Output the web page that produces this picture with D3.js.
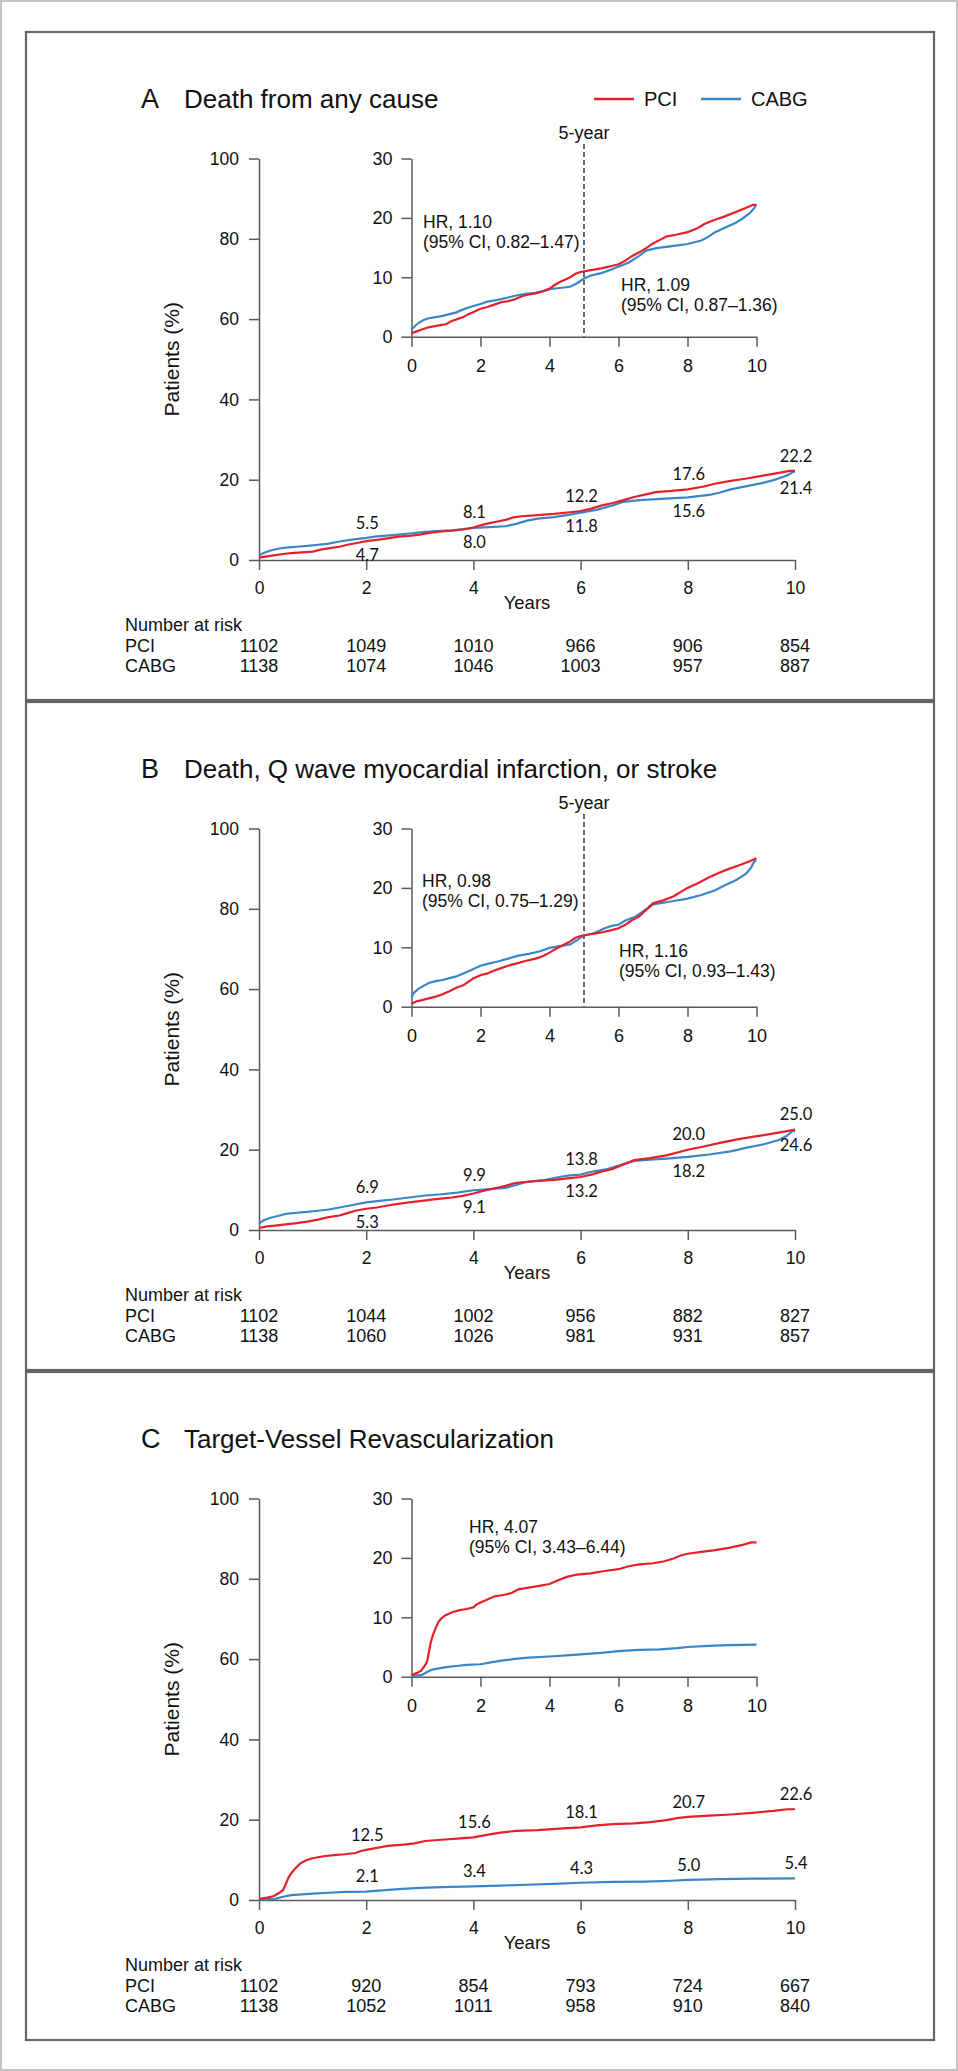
<!DOCTYPE html>
<html>
<head>
<meta charset="utf-8">
<script src="https://cdn.jsdelivr.net/npm/d3@7"></script>
<style>
  body { margin: 0; background: #fff; }
  svg text { font-family: "Liberation Sans", Arial, sans-serif; fill: #111; }
  .axis path, .axis line { stroke: #5a5a5a; stroke-width: 1.5; }
  .axis text { font-size: 17.5px; fill: #111; }
  .inset .axis text { font-size: 18px; }
  .value-label { font-family: Lato, "Open Sans", sans-serif !important; font-size: 16.5px; }
</style>
</head>
<body>
<svg id="chart" width="958" height="2071"></svg>
<script>
// ---- Data ----
let panelLetters = ["A", "B", "C"];
let panelTitles = ["Death from any cause",
                   "Death, Q wave myocardial infarction, or stroke",
                   "Target-Vessel Revascularization"];
let seriesNames = ["PCI", "CABG"];
let xTicks = [0, 2, 4, 6, 8, 10];
let yTicksMain = [0, 20, 40, 60, 80, 100];
let yTicksInset = [0, 10, 20, 30];
let labelYears = [2, 4, 6, 8, 10];

// cumulative event curves: [years, %]
let pciA = [[0,0.6],[0.15,0.9],[0.3,1.2],[0.45,1.5],[0.6,1.7],[0.8,1.9],[1.0,2.1],[1.15,2.6],[1.35,3.0],[1.5,3.3],
            [1.65,3.8],[1.85,4.3],[2.0,4.7],[2.2,5.0],[2.4,5.4],[2.6,5.8],[2.8,6.0],[3.0,6.3],[3.2,6.8],[3.4,7.1],
            [3.6,7.3],[3.8,7.6],[4.0,8.1],[4.15,8.7],[4.3,9.2],[4.45,9.6],[4.6,10.0],[4.75,10.6],[4.9,10.9],[5.2,11.2],
            [5.5,11.5],[5.8,11.9],[6.0,12.2],[6.2,12.8],[6.4,13.6],[6.6,14.2],[6.8,14.9],[7.0,15.7],[7.2,16.3],[7.4,16.9],
            [7.7,17.2],[8.0,17.6],[8.3,18.3],[8.5,19.0],[8.8,19.7],[9.1,20.3],[9.4,21.0],[9.7,21.7],[9.9,22.2],[10,22.2]];
let cabgA = [[0,1.2],[0.1,1.8],[0.2,2.3],[0.35,2.8],[0.5,3.1],[0.7,3.3],[0.9,3.5],[1.1,3.8],[1.3,4.1],[1.5,4.6],
             [1.7,5.0],[2.0,5.5],[2.2,5.9],[2.5,6.2],[2.8,6.6],[3.0,6.9],[3.3,7.2],[3.6,7.4],[3.9,7.8],[4.0,8.0],
             [4.3,8.2],[4.6,8.4],[4.8,9.0],[5.0,9.8],[5.2,10.3],[5.5,10.7],[5.8,11.3],[6.0,11.8],[6.3,12.5],[6.6,13.6],
             [6.8,14.5],[7.1,14.9],[7.5,15.2],[8.0,15.6],[8.4,16.2],[8.6,16.8],[8.8,17.6],[9.1,18.4],[9.4,19.2],[9.6,19.9],
             [9.8,20.8],[9.9,21.4],[9.97,22.0],[10,22.0]];
let pciB = [[0,0.5],[0.15,0.9],[0.3,1.1],[0.5,1.4],[0.7,1.7],[0.9,2.1],[1.1,2.6],[1.3,3.2],[1.5,3.6],[1.65,4.2],
            [1.8,4.8],[2.0,5.3],[2.2,5.6],[2.4,6.1],[2.6,6.5],[2.8,6.9],[3.0,7.2],[3.3,7.7],[3.6,8.1],[3.8,8.5],
            [4.0,9.1],[4.2,9.8],[4.4,10.4],[4.6,11.0],[4.75,11.6],[4.9,11.9],[5.2,12.2],[5.5,12.5],[5.8,12.9],[6.0,13.2],
            [6.2,13.8],[6.4,14.6],[6.6,15.2],[6.8,16.3],[7.0,17.4],[7.3,17.9],[7.6,18.6],[8.0,20.0],[8.3,20.8],[8.6,21.7],
            [8.9,22.5],[9.2,23.2],[9.5,23.8],[9.8,24.5],[10,25.0]];
let cabgB = [[0,1.6],[0.08,2.4],[0.2,3.0],[0.35,3.5],[0.5,4.0],[0.7,4.3],[0.9,4.5],[1.1,4.8],[1.3,5.1],[1.5,5.6],
             [1.7,6.1],[2.0,6.9],[2.2,7.2],[2.5,7.6],[2.8,8.1],[3.1,8.6],[3.4,8.9],[3.7,9.3],[4.0,9.9],[4.3,10.2],
             [4.6,10.5],[4.8,11.2],[5.0,12.0],[5.3,12.4],[5.6,13.2],[5.8,13.6],[6.0,13.8],[6.2,14.5],[6.5,15.2],[6.8,16.4],
             [7.0,17.2],[7.3,17.5],[7.6,17.8],[8.0,18.2],[8.4,18.8],[8.8,19.6],[9.1,20.5],[9.4,21.3],[9.7,22.4],[9.85,23.5],
             [9.95,24.6],[10,24.6]];
let pciC = [[0,0.3],[0.15,0.6],[0.28,1.0],[0.38,1.8],[0.45,2.5],[0.5,4.0],[0.55,5.6],[0.62,7.0],[0.7,8.2],[0.78,9.2],
            [0.88,9.9],[1.0,10.4],[1.2,10.9],[1.4,11.2],[1.6,11.4],[1.8,11.7],[1.9,12.2],[2.0,12.5],[2.2,13.0],[2.4,13.5],
            [2.7,13.8],[2.9,14.1],[3.1,14.7],[3.4,15.0],[3.7,15.3],[4.0,15.6],[4.2,16.1],[4.5,16.8],[4.8,17.2],[5.2,17.4],
            [5.6,17.8],[6.0,18.1],[6.3,18.6],[6.6,18.9],[7.0,19.1],[7.3,19.4],[7.6,19.9],[7.8,20.4],[8.0,20.7],[8.4,21.0],
            [8.8,21.3],[9.2,21.7],[9.6,22.2],[9.85,22.6],[10,22.6]];
let cabgC = [[0,0.1],[0.3,0.3],[0.45,0.8],[0.6,1.2],[0.8,1.4],[1.0,1.6],[1.3,1.8],[1.6,2.0],[2.0,2.1],[2.3,2.4],
             [2.6,2.7],[3.0,3.0],[3.4,3.2],[4.0,3.4],[4.5,3.6],[5.0,3.8],[5.5,4.0],[6.0,4.3],[6.6,4.5],[7.2,4.6],
             [7.7,4.8],[8.0,5.0],[8.6,5.2],[9.2,5.3],[10,5.4]];

// percentages printed at 2, 4, 6, 8, 10 years
let pciLabelsA = [4.7, 8.1, 12.2, 17.6, 22.2];
let cabgLabelsA = [5.5, 8.0, 11.8, 15.6, 21.4];
let pciLabelsB = [5.3, 9.1, 13.2, 20.0, 25.0];
let cabgLabelsB = [6.9, 9.9, 13.8, 18.2, 24.6];
let pciLabelsC = [12.5, 15.6, 18.1, 20.7, 22.6];
let cabgLabelsC = [2.1, 3.4, 4.3, 5.0, 5.4];

// number at risk at 0, 2, ... 10 years
let riskPciA = [1102, 1049, 1010, 966, 906, 854];
let riskCabgA = [1138, 1074, 1046, 1003, 957, 887];
let riskPciB = [1102, 1044, 1002, 956, 882, 827];
let riskCabgB = [1138, 1060, 1026, 981, 931, 857];
let riskPciC = [1102, 920, 854, 793, 724, 667];
let riskCabgC = [1138, 1052, 1011, 958, 910, 840];

let hrA = [["HR, 1.10", "(95% CI, 0.82\u20131.47)"], ["HR, 1.09", "(95% CI, 0.87\u20131.36)"]];
let hrB = [["HR, 0.98", "(95% CI, 0.75\u20131.29)"], ["HR, 1.16", "(95% CI, 0.93\u20131.43)"]];
let hrC = [["HR, 4.07", "(95% CI, 3.43\u20136.44)"]];

// ---- Layout ----
let colors = {PCI: "#e4202a", CABG: "#3a86c8"};
let panelStep = 670;
let hrPositions = [
    [[423, 222], [621, 285]],
    [[422, 211], [619, 281]],
    [[469, 187]]
];

let panels = [
    {pci: pciA, cabg: cabgA, pciLab: pciLabelsA, cabgLab: cabgLabelsA, riskPci: riskPciA, riskCabg: riskCabgA, hr: hrA, fiveYear: true, legend: true},
    {pci: pciB, cabg: cabgB, pciLab: pciLabelsB, cabgLab: cabgLabelsB, riskPci: riskPciB, riskCabg: riskCabgB, hr: hrB, fiveYear: true, legend: false},
    {pci: pciC, cabg: cabgC, pciLab: pciLabelsC, cabgLab: cabgLabelsC, riskPci: riskPciC, riskCabg: riskCabgC, hr: hrC, fiveYear: false, legend: false}
];

let svg = d3.select("#chart");

// outer frame
svg.append("rect")
    .attr("x", 1).attr("y", 1)
    .attr("width", 956).attr("height", 2069)
    .attr("fill", "none")
    .attr("stroke", "#c4c4c4")
    .attr("stroke-width", 2);

// scales shared by all panels (panels are shifted with a transform)
let xMain = d3.scaleLinear().domain([0, 10]).range([259, 795]);
let yMain = d3.scaleLinear().domain([0, 100]).range([560, 158.5]);
let xInset = d3.scaleLinear().domain([0, 10]).range([411.5, 756.5]);
let yInset = d3.scaleLinear().domain([0, 30]).range([336.7, 158.5]);

function drawPanel(p, i) {
    let g = svg.append("g").attr("transform", "translate(0," + (i * panelStep) + ")");

    // panel box
    g.append("rect")
        .attr("x", 26).attr("y", 32)
        .attr("width", 908).attr("height", 668)
        .attr("fill", "none")
        .attr("stroke", "#666")
        .attr("stroke-width", 2.2);

    // title
    g.append("text").attr("x", 141).attr("y", 99).attr("dy", "0.35em")
        .style("font-size", "27px").text(panelLetters[i]);
    g.append("text").attr("x", 184).attr("y", 99).attr("dy", "0.35em")
        .style("font-size", "26px").text(panelTitles[i]);

    // legend
    if (p.legend) {
        let lg = g.append("g").selectAll("g").data(seriesNames).enter().append("g")
            .attr("transform", (d, k) => "translate(" + (594 + k * 107) + ",99)");
        lg.append("line").attr("x1", 0).attr("x2", 40)
            .attr("stroke", d => colors[d]).attr("stroke-width", 2.5);
        lg.append("text").attr("x", 50).attr("dy", "0.35em")
            .style("font-size", "20px").text(d => d);
    }

    let line = (xs, ys) => d3.line()
        .x(d => xs(d[0]))
        .y(d => ys(d[1]));

    // ---- main chart ----
    let main = g.append("g");
    main.append("g").attr("class", "axis")
        .attr("transform", "translate(0," + yMain(0) + ")")
        .call(d3.axisBottom(xMain).tickValues(xTicks).tickSize(10).tickSizeOuter(0).tickPadding(12));
    main.append("g").attr("class", "axis")
        .attr("transform", "translate(" + xMain(0) + ",0)")
        .call(d3.axisLeft(yMain).tickValues(yTicksMain).tickSize(10).tickSizeOuter(0).tickPadding(10));

    main.append("text")
        .attr("transform", "translate(172," + ((yMain(0) + yMain(100)) / 2) + ") rotate(-90)")
        .attr("text-anchor", "middle").attr("dy", "0.35em")
        .style("font-size", "21px").text("Patients (%)");
    main.append("text")
        .attr("x", xMain(5)).attr("y", 603).attr("dy", "0.35em")
        .attr("text-anchor", "middle").style("font-size", "18.5px").text("Years");

    main.append("path").datum(p.cabg)
        .attr("d", line(xMain, yMain))
        .attr("fill", "none").attr("stroke", colors.CABG).attr("stroke-width", 2.2);
    main.append("path").datum(p.pci)
        .attr("d", line(xMain, yMain))
        .attr("fill", "none").attr("stroke", colors.PCI).attr("stroke-width", 2.2);

    // value labels: when the two curves are close the higher one goes above, the other below
    labelYears.forEach(function(yr, k) {
        let a = p.pciLab[k], b = p.cabgLab[k];
        let close = Math.abs(a - b) < 4;
        [[a, b], [b, a]].forEach(function(pair) {
            let v = pair[0], other = pair[1];
            let above = !close || v >= other;
            main.append("text")
                .attr("class", "value-label")
                .attr("x", xMain(yr) + 1)
                .attr("y", yMain(v) + (above ? -15 : 14))
                .attr("dy", "0.35em")
                .attr("text-anchor", "middle")
                .text(d3.format(".1f")(v));
        });
    });

    // number at risk
    let risk = g.append("g").style("font-size", "18px");
    risk.append("text").attr("x", 125).attr("y", 625).attr("dy", "0.35em").text("Number at risk");
    risk.append("text").attr("x", 125).attr("y", 646).attr("dy", "0.35em").text("PCI");
    risk.append("text").attr("x", 125).attr("y", 666).attr("dy", "0.35em").text("CABG");
    risk.selectAll(".rp").data(p.riskPci).enter().append("text")
        .attr("x", (d, k) => xMain(xTicks[k])).attr("y", 646).attr("dy", "0.35em")
        .attr("text-anchor", "middle").text(d => d);
    risk.selectAll(".rc").data(p.riskCabg).enter().append("text")
        .attr("x", (d, k) => xMain(xTicks[k])).attr("y", 666).attr("dy", "0.35em")
        .attr("text-anchor", "middle").text(d => d);

    // ---- inset ----
    let inset = g.append("g").attr("class", "inset");
    inset.append("g").attr("class", "axis")
        .attr("transform", "translate(0," + yInset(0) + ")")
        .call(d3.axisBottom(xInset).tickValues(xTicks).tickSize(10).tickSizeOuter(0).tickPadding(13));
    inset.append("g").attr("class", "axis")
        .attr("transform", "translate(" + xInset(0) + ",0)")
        .call(d3.axisLeft(yInset).tickValues(yTicksInset).tickSize(10).tickSizeOuter(0).tickPadding(9));

    if (p.fiveYear) {
        inset.append("line")
            .attr("x1", xInset(5)).attr("x2", xInset(5))
            .attr("y1", 144).attr("y2", yInset(0))
            .attr("stroke", "#333").attr("stroke-width", 1.5)
            .attr("stroke-dasharray", "5,3");
        inset.append("text")
            .attr("x", xInset(5)).attr("y", 133).attr("dy", "0.35em")
            .attr("text-anchor", "middle").style("font-size", "18px").text("5-year");
    }

    inset.append("path").datum(p.cabg)
        .attr("d", line(xInset, yInset))
        .attr("fill", "none").attr("stroke", colors.CABG).attr("stroke-width", 2.2);
    inset.append("path").datum(p.pci)
        .attr("d", line(xInset, yInset))
        .attr("fill", "none").attr("stroke", colors.PCI).attr("stroke-width", 2.2);

    // hazard ratios
    p.hr.forEach(function(lines, k) {
        let pos = hrPositions[i][k];
        lines.forEach(function(t, j) {
            inset.append("text")
                .attr("x", pos[0]).attr("y", pos[1] + j * 20).attr("dy", "0.35em")
                .style("font-size", "17.5px").text(t);
        });
    });
}

panels.forEach(drawPanel);
</script>
</body>
</html>
